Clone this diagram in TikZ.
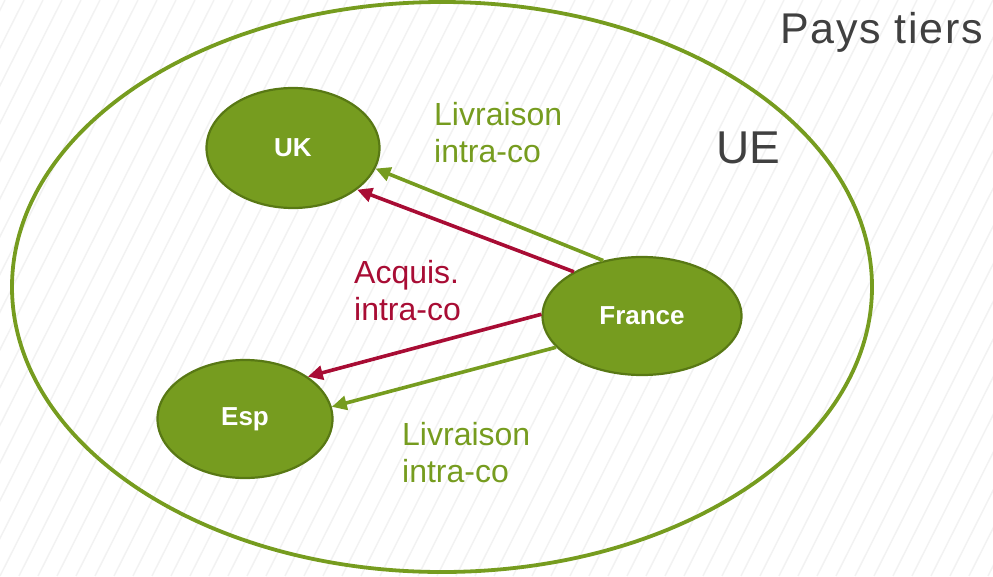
\documentclass[tikz,border=0pt]{standalone}
\usepackage{fontspec}
\setmainfont{Liberation Sans}
\usetikzlibrary{shapes.geometric,arrows.meta}
\definecolor{olive}{RGB}{118,156,31}
\definecolor{olivedark}{RGB}{88,120,20}
\definecolor{wine}{RGB}{168,12,52}
\definecolor{hatch}{RGB}{242,242,242}
\definecolor{darktext}{RGB}{64,64,64}
\tikzset{
  country/.style={ellipse, draw=olivedark, line width=2.2pt, fill=olive,
    text=white, font=\fontsize{26}{30}\selectfont\bfseries, inner sep=0pt},
  flowgreen/.style={draw=olive, line width=3.6pt, -{Triangle[length=15pt,width=14pt]}},
  flowred/.style={draw=wine, line width=3.6pt, -{Triangle[length=15pt,width=14pt]}},
  lbl/.style={anchor=base west, align=left, inner sep=0pt,
    font=\fontsize{32}{37}\selectfont},
}
\begin{document}
\begin{tikzpicture}[x=1pt,y=-1pt]
  \useasboundingbox (0,0) rectangle (993,576);
  % faint diagonal hatching over the whole background
  \begin{scope}
    \clip (0,0) rectangle (993,576);
    \foreach \i in {-20,...,60} {
      \draw[hatch, line width=1.5pt] ({\i*19},576) -- ({\i*19+290},0);
    }
  \end{scope}
  % EU boundary
  \node[ellipse, draw=olive, line width=3.8pt, minimum width=860pt, minimum height=570pt, inner sep=0pt] (ue) at (442,287) {};
  % member states
  \node[country, minimum width=173pt, minimum height=120pt] (uk) at (293,148) {UK};
  \node[country, minimum width=199pt, minimum height=118pt] (fr) at (642,316) {France};
  \node[country, minimum width=175pt, minimum height=118pt] (esp) at (245,419) {Esp};
  % flows
  \draw[flowgreen] (fr.125) -- (uk.-14);
  \draw[flowred] (fr.147) -- (uk.-33);
  \draw[flowred] (fr.179) -- (esp.34);
  \draw[flowgreen] (fr.-160) -- (esp.8);
  % labels (base anchor sits on the last line)
  \node[lbl, text=olive] (liv1) at (434,162) {Livraison\\intra-co};
  \node[lbl, text=wine] (acq) at (354,320) {Acquis.\\intra-co};
  \node[lbl, text=olive] (liv2) at (402,482) {Livraison\\intra-co};
  \node[anchor=base west, inner sep=0pt, text=darktext, font=\fontsize{46}{50}\selectfont] (uelbl) at (716,163) {UE};
  \node[anchor=base west, inner sep=0pt, text=darktext, font=\fontsize{43}{48}\selectfont\addfontfeatures{LetterSpace=4}] (tiers) at (780,43) {Pays tiers};
\end{tikzpicture}
\end{document}
